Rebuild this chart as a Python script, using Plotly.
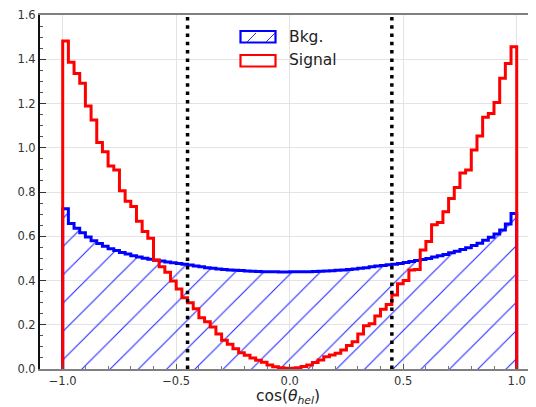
import plotly.graph_objects as go

# ---------------- data ----------------
bin_edges = [-1.0 + 0.025 * i for i in range(81)]

signal_values = [
    1.482, 1.386, 1.336, 1.291, 1.189, 1.125, 1.024, 0.982, 0.918, 0.900,
    0.806, 0.758, 0.734, 0.668, 0.621, 0.591, 0.493, 0.462, 0.437, 0.398,
    0.362, 0.322, 0.300, 0.272, 0.232, 0.213, 0.190, 0.158, 0.130, 0.112,
    0.092, 0.074, 0.062, 0.050, 0.040, 0.030, 0.018, 0.010, 0.006, 0.003,
    0.003, 0.006, 0.011, 0.018, 0.029, 0.041, 0.055, 0.063, 0.071, 0.086,
    0.106, 0.123, 0.158, 0.195, 0.205, 0.240, 0.270, 0.292, 0.334, 0.385,
    0.400, 0.447, 0.450, 0.538, 0.576, 0.652, 0.662, 0.711, 0.771, 0.820,
    0.886, 0.900, 0.990, 1.053, 1.138, 1.155, 1.204, 1.314, 1.381, 1.457,
]

bkg_values = [
    0.724, 0.658, 0.636, 0.616, 0.597, 0.580, 0.567, 0.555, 0.544, 0.536,
    0.527, 0.520, 0.512, 0.506, 0.501, 0.496, 0.492, 0.488, 0.484, 0.480,
    0.477, 0.474, 0.470, 0.466, 0.462, 0.458, 0.455, 0.452, 0.450, 0.448,
    0.446, 0.445, 0.443, 0.442, 0.441, 0.440, 0.439, 0.439, 0.438, 0.438,
    0.439, 0.439, 0.440, 0.440, 0.441, 0.442, 0.443, 0.444, 0.446, 0.448,
    0.450, 0.452, 0.455, 0.458, 0.462, 0.465, 0.468, 0.471, 0.474, 0.477,
    0.481, 0.486, 0.490, 0.495, 0.500, 0.506, 0.512, 0.518, 0.525, 0.532,
    0.540, 0.548, 0.558, 0.568, 0.582, 0.595, 0.610, 0.628, 0.655, 0.703,
]

cut_values = [-0.45, 0.45]

series_names = ["Bkg.", "Signal"]
x_ticks = [-1.0, -0.5, 0.0, 0.5, 1.0]
y_ticks = [0.0, 0.2, 0.4, 0.6, 0.8, 1.0, 1.2, 1.4, 1.6]


def step_xy(edges, vals):
    xs = [edges[0]] + list(edges[:-1]) + [edges[-1]]
    ys = [0.0] + list(vals) + [0.0]
    return xs, ys


# page body has an 8px margin: compensate so the plot lands where the reference has it
OFF = 8
W, H = 536 - OFF, 407 - OFF
ML, MT, MB = 40 - OFF, 15 - OFF, 38
PW, PH = W - ML, H - MT - MB


def px(x):  # screen pixel -> paper
    return (x - OFF - ML) / PW


def py(y):
    return (H - MB - (y - OFF)) / PH


fig = go.Figure()

bx, by = step_xy(bin_edges, bkg_values)
fig.add_trace(go.Scatter(
    x=bx, y=by, mode="lines", line=dict(color="#0000ff", width=3, shape="hv"),
    fill="tozeroy", fillcolor="rgba(0,0,0,0)",
    fillpattern=dict(shape="/", size=20, solidity=0.055,
                     fgcolor="rgb(40,40,255)", fgopacity=1, bgcolor="rgba(0,0,0,0)",
                     fillmode="overlay"),
    name=series_names[0], showlegend=False, hoverinfo="skip",
))

sx, sy = step_xy(bin_edges, signal_values)
fig.add_trace(go.Scatter(
    x=sx, y=sy, mode="lines", line=dict(color="#ff0000", width=3, shape="hv"),
    name=series_names[1], showlegend=False, hoverinfo="skip",
))

for c in cut_values:
    fig.add_trace(go.Scatter(
        x=[c, c], y=[0, y_ticks[-1]], mode="lines",
        line=dict(color="black", width=3.5, dash="3.5px,4.8px"),
        showlegend=False, hoverinfo="skip",
    ))

# custom legend (matplotlib style)
shapes = [
    dict(type="rect", xref="paper", yref="paper",
         x0=px(240.5), x1=px(275.5), y0=py(42.5), y1=py(31),
         line=dict(color="#0000ff", width=2.2), fillcolor="white"),
    dict(type="line", xref="paper", yref="paper",
         x0=px(247), y0=py(42), x1=px(256), y1=py(33),
         line=dict(color="rgb(40,40,255)", width=1)),
    dict(type="line", xref="paper", yref="paper",
         x0=px(266), y0=py(42), x1=px(275), y1=py(33),
         line=dict(color="rgb(40,40,255)", width=1)),
    dict(type="rect", xref="paper", yref="paper",
         x0=px(240.5), x1=px(275.5), y0=py(66.5), y1=py(55),
         line=dict(color="#ff0000", width=2.2), fillcolor="white"),
]

annotations = [
    dict(text=series_names[0], xref="paper", yref="paper", x=px(287), y=py(37),
         xanchor="left", yanchor="middle", showarrow=False,
         font=dict(size=15.5, color="#222222", family="DejaVu Sans")),
    dict(text=series_names[1], xref="paper", yref="paper", x=px(287), y=py(60),
         xanchor="left", yanchor="middle", showarrow=False,
         font=dict(size=15.5, color="#222222", family="DejaVu Sans")),
]

fig.update_layout(
    width=W, height=H,
    margin=dict(l=ML, r=0, t=MT, b=MB, autoexpand=False),
    paper_bgcolor="white", plot_bgcolor="white",
    font=dict(family="DejaVu Sans", color="#333333", size=11.5),
    shapes=shapes, annotations=annotations,
    showlegend=False,
)

fig.update_xaxes(
    range=[-1.1, -1.1 + PW / 227.0],
    tickvals=x_ticks, tickformat=".1f",
    showgrid=True, gridcolor="#e3e3e3", gridwidth=1,
    zeroline=False,
    showline=True, linecolor="#808080", linewidth=1.5, mirror=True,
    ticks="inside", ticklen=5, tickcolor="#555555",
    minor=dict(dtick=0.1, ticks="inside", ticklen=3, tickcolor="#777777", showgrid=False),
    title=dict(text="cos(<i>θ</i><sub><i>hel</i></sub>)", font=dict(size=15.5, color="#222222"),
               standoff=6),
)

fig.update_yaxes(
    range=[0, 1.6],
    tickvals=y_ticks, tickformat=".1f",
    showgrid=True, gridcolor="#e3e3e3", gridwidth=1,
    zeroline=False,
    showline=True, linecolor="#111111", linewidth=2,
    ticks="inside", ticklen=6, tickcolor="#333333",
    minor=dict(dtick=0.05, ticks="inside", ticklen=3, tickcolor="#555555", showgrid=False),
)

fig.write_html("out.html")
